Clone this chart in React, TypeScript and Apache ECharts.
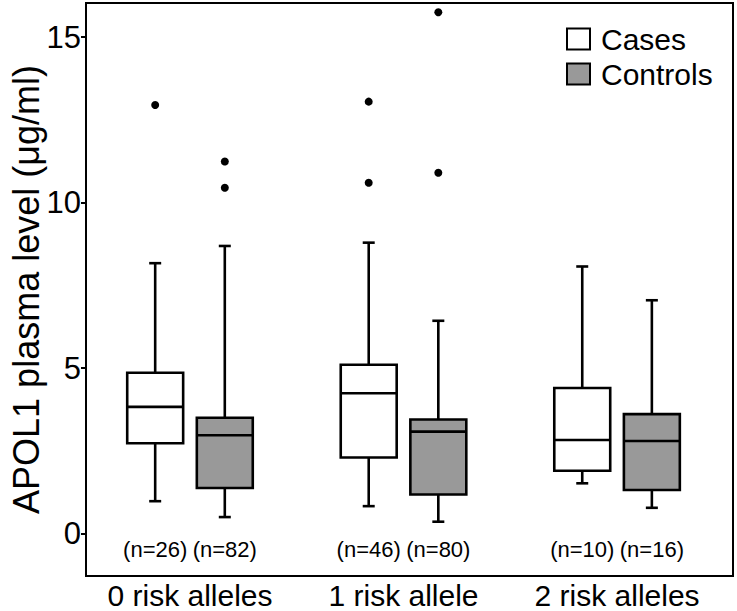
import React, { useEffect, useRef } from "react";
import * as echarts from "echarts";

const categories = ["0 risk alleles", "1 risk allele", "2 risk alleles"];
const groupPositions = [1, 2, 3];
const yTickValues = [0, 5, 10, 15];

const casesMin = [0.98, 0.83, 1.52];
const casesQ1 = [2.73, 2.3, 1.9];
const casesMedian = [3.83, 4.24, 2.83];
const casesQ3 = [4.86, 5.1, 4.4];
const casesMax = [8.17, 8.79, 8.07];
const casesN = [26, 46, 10];
const casesOutliers: [number, number][] = [
  [0, 12.95],
  [1, 13.05],
  [1, 10.6],
];

const controlsMin = [0.5, 0.36, 0.78];
const controlsQ1 = [1.38, 1.18, 1.32];
const controlsMedian = [2.97, 3.08, 2.8];
const controlsQ3 = [3.5, 3.45, 3.61];
const controlsMax = [8.69, 6.43, 7.05];
const controlsN = [82, 80, 16];
const controlsOutliers: [number, number][] = [
  [0, 11.24],
  [0, 10.45],
  [1, 15.75],
  [1, 10.9],
];

const FONT = "'Liberation Sans', Arial, sans-serif";
const DODGE = 0.163;
const BOX_W = 0.262;
const N_LABEL_Y = -0.47;

function boxData(offset: number, mn: number[], q1: number[], md: number[], q3: number[], mx: number[]) {
  return groupPositions.map((p, i) => [p + offset, mn[i], q1[i], md[i], q3[i], mx[i]]);
}

function renderBox(params: any, api: any) {
  const x = api.value(0);
  const mn = api.value(1);
  const q1 = api.value(2);
  const md = api.value(3);
  const q3 = api.value(4);
  const mx = api.value(5);
  const w = api.size([BOX_W, 0])[0];
  const cap = 12;
  const pMin = api.coord([x, mn]);
  const pQ1 = api.coord([x, q1]);
  const pMd = api.coord([x, md]);
  const pQ3 = api.coord([x, q3]);
  const pMx = api.coord([x, mx]);
  const cx = pMin[0];
  const lineStyle = { stroke: "#000", lineWidth: 2.6, fill: "none" };
  const fill = api.visual("color");
  return {
    type: "group",
    children: [
      { type: "line", shape: { x1: cx, y1: pQ3[1], x2: cx, y2: pMx[1] }, style: lineStyle },
      { type: "line", shape: { x1: cx - cap / 2, y1: pMx[1], x2: cx + cap / 2, y2: pMx[1] }, style: lineStyle },
      { type: "line", shape: { x1: cx, y1: pQ1[1], x2: cx, y2: pMin[1] }, style: lineStyle },
      { type: "line", shape: { x1: cx - cap / 2, y1: pMin[1], x2: cx + cap / 2, y2: pMin[1] }, style: lineStyle },
      {
        type: "rect",
        shape: { x: cx - w / 2, y: pQ3[1], width: w, height: pQ1[1] - pQ3[1] },
        style: { fill, stroke: "#000", lineWidth: 2.6 },
      },
      { type: "line", shape: { x1: cx - w / 2, y1: pMd[1], x2: cx + w / 2, y2: pMd[1] }, style: lineStyle },
    ],
  };
}

export default function App() {
  const ref = useRef<HTMLDivElement>(null);
  useEffect(() => {
    if (!ref.current) return;
    const chart = echarts.init(ref.current, undefined, { renderer: "svg" });
    const nLabels = [
      ...groupPositions.map((p, i) => [p - DODGE, N_LABEL_Y, casesN[i]]),
      ...groupPositions.map((p, i) => [p + DODGE, N_LABEL_Y, controlsN[i]]),
    ];
    chart.setOption({
      animation: false,
      backgroundColor: "#fff",
      textStyle: { fontFamily: FONT },
      grid: {
        left: 86,
        right: 4,
        top: 3,
        bottom: 35,
        show: true,
        borderColor: "#000",
        borderWidth: 2,
        outerBoundsMode: "none",
        containLabel: false,
      },
      legend: {
        orient: "vertical",
        left: 566,
        top: 24,
        itemWidth: 23,
        itemHeight: 21,
        itemGap: 5,
        padding: 0,
        icon: "rect",
        textStyle: { fontSize: 30, color: "#000", fontFamily: FONT, padding: [0, 0, 0, 6] },
        data: [
          { name: "Cases", itemStyle: { color: "#fff", borderColor: "#000", borderWidth: 2 } },
          { name: "Controls", itemStyle: { color: "#999999", borderColor: "#000", borderWidth: 2 } },
        ],
      },
      xAxis: {
        type: "value",
        min: 0.513,
        max: 3.543,
        axisLine: { show: true, onZero: false, lineStyle: { color: "#000", width: 2 } },
        axisTick: { show: false },
        splitLine: { show: false },
        axisLabel: {
          customValues: groupPositions,
          formatter: (v: number) => categories[Math.round(v) - 1] ?? "",
          fontSize: 30,
          lineHeight: 30,
          color: "#000",
          margin: 4,
          fontFamily: FONT,
        },
      },
      yAxis: {
        type: "value",
        min: -1.28,
        max: 16.03,
        name: "APOL1 plasma level (μg/ml)",
        nameLocation: "middle",
        nameGap: 42,
        nameMoveOverlap: false,
        nameTextStyle: { fontSize: 36, lineHeight: 36, color: "#000", fontFamily: FONT },
        axisLine: { show: true, onZero: false, lineStyle: { color: "#000", width: 2 } },
        axisTick: { show: true, customValues: yTickValues, length: 5, lineStyle: { color: "#000", width: 2 } },
        splitLine: { show: false },
        axisLabel: {
          customValues: yTickValues,
          fontSize: 31,
          color: "#000",
          margin: 5,
          fontFamily: FONT,
        },
      },
      series: [
        {
          name: "Cases",
          type: "custom",
          renderItem: renderBox,
          itemStyle: { color: "#fff", borderColor: "#000", borderWidth: 2 },
          encode: { x: 0, y: [1, 2, 3, 4, 5] },
          data: boxData(-DODGE, casesMin, casesQ1, casesMedian, casesQ3, casesMax),
          silent: true,
        },
        {
          name: "Controls",
          type: "custom",
          renderItem: renderBox,
          itemStyle: { color: "#999999", borderColor: "#000", borderWidth: 2 },
          encode: { x: 0, y: [1, 2, 3, 4, 5] },
          data: boxData(DODGE, controlsMin, controlsQ1, controlsMedian, controlsQ3, controlsMax),
          silent: true,
        },
        {
          name: "CasesOutliers",
          type: "scatter",
          symbol: "circle",
          symbolSize: 8,
          itemStyle: { color: "#000", opacity: 1 },
          data: casesOutliers.map(([g, v]) => [groupPositions[g] - DODGE, v]),
          silent: true,
        },
        {
          name: "ControlsOutliers",
          type: "scatter",
          symbol: "circle",
          symbolSize: 8,
          itemStyle: { color: "#000", opacity: 1 },
          data: controlsOutliers.map(([g, v]) => [groupPositions[g] + DODGE, v]),
          silent: true,
        },
        {
          name: "nLabels",
          type: "scatter",
          symbolSize: 0,
          itemStyle: { color: "#000", opacity: 1 },
          label: {
            show: true,
            position: "inside",
            formatter: (p: any) => `(n=${p.value[2]})`,
            fontSize: 22,
            color: "#000",
            opacity: 1,
            fontFamily: FONT,
          },
          data: nLabels,
          silent: true,
        },
      ],
    });
    return () => chart.dispose();
  }, []);
  return (
    <div
      ref={ref}
      style={{ position: "fixed", left: 0, top: 0, width: 737, height: 611 }}
    />
  );
}
